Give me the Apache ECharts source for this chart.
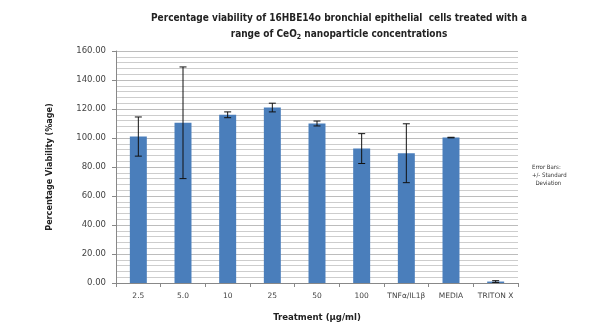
<!DOCTYPE html>
<html><head><meta charset="utf-8">
<script src="https://cdn.jsdelivr.net/npm/echarts@6/dist/echarts.min.js"></script>
<style>html,body{margin:0;padding:0;background:#fff}#c{width:610px;height:330px}</style>
</head><body><div id="c"></div>
<script>
const categories = ['2.5','5.0','10','25','50','100','TNFα/IL1β','MEDIA','TRITON X'];
const viability = [101, 110.5, 116, 121, 110, 92.7, 89.5, 100.3, 1];
const stdDev = [13.5, 38.5, 2, 3, 1.7, 10.3, 20.3, 0.2, 0.6];
const yTicks = [0, 20, 40, 60, 80, 100, 120, 140, 160];

const FB = '"DejaVu Sans Condensed", "DejaVu Sans"';
const chart = echarts.init(document.getElementById('c'));
const errData = viability.map((v, i) => [i, v - stdDev[i], v + stdDev[i]]);
chart.setOption({
  animation: false,
  title: {
    text: 'Percentage viability of 16HBE14o bronchial epithelial  cells treated with a\n{n|range of CeO}{s|2}{n| nanoparticle concentrations}',
    left: 334, top: 5, textAlign: 'center',
    textStyle: {
      fontFamily: FB, fontWeight: 'bold', fontSize: 10, color: '#222', lineHeight: 16,
      rich: {
        n: {fontFamily: FB, fontWeight: 'bold', fontSize: 10, color: '#222'},
        s: {fontFamily: FB, fontWeight: 'bold', fontSize: 7, color: '#222', padding: [6, 0, 0, 0]}
      }
    }
  },
  grid: {left: 116, right: 92, top: 51, bottom: 47},
  xAxis: {
    type: 'category', data: categories,
    name: 'Treatment (µg/ml)', nameLocation: 'middle', nameGap: 30,
    nameTextStyle: {fontFamily: FB, fontWeight: 'bold', fontSize: 9.5, color: '#222'},
    axisLine: {lineStyle: {color: '#888'}},
    axisTick: {show: true, length: 4, lineStyle: {color: '#888'}},
    axisLabel: {interval: 0, fontFamily: 'DejaVu Sans', fontSize: 7.5, color: '#444', margin: 9}
  },
  yAxis: {
    type: 'value', min: 0, max: 160, interval: 20,
    name: 'Percentage Viability (%age)', nameLocation: 'middle', nameGap: 62,
    nameTextStyle: {fontFamily: FB, fontWeight: 'bold', fontSize: 9, color: '#222'},
    axisLine: {show: true, lineStyle: {color: '#888'}},
    axisTick: {show: true, length: 4, lineStyle: {color: '#888'}},
    axisLabel: {fontFamily: 'DejaVu Sans', fontSize: 8.5, color: '#444', margin: 10,
      formatter: v => yTicks.includes(v) ? v.toFixed(2) : ''},
    splitLine: {lineStyle: {color: '#bcbcbc'}},
    minorTick: {show: false, splitNumber: 5},
    minorSplitLine: {show: true, lineStyle: {color: '#cdcdcd'}}
  },
  series: [
    {type: 'bar', data: viability, barWidth: '38%',
     itemStyle: {color: '#4a7ebb'}},
    {type: 'custom', data: errData, z: 10,
     renderItem: function (params, api) {
       const x = api.value(0);
       const lo = api.coord([x, api.value(1)]);
       const hi = api.coord([x, api.value(2)]);
       const hw = 3.5;
       const st = {stroke: '#111', lineWidth: 1};
       return {type: 'group', children: [
         {type: 'line', shape: {x1: lo[0], y1: lo[1], x2: hi[0], y2: hi[1]}, style: st},
         {type: 'line', shape: {x1: lo[0] - hw, y1: lo[1], x2: lo[0] + hw, y2: lo[1]}, style: st},
         {type: 'line', shape: {x1: hi[0] - hw, y1: hi[1], x2: hi[0] + hw, y2: hi[1]}, style: st}
       ]};
     }}
  ],
  graphic: [{
    type: 'text', left: 532, top: 163,
    style: {text: 'Error Bars:\n+/- Standard\n  Deviation', font: '6px "DejaVu Sans Condensed", "Liberation Sans"', fill: '#333', lineHeight: 8}
  }]
});
</script></body></html>
